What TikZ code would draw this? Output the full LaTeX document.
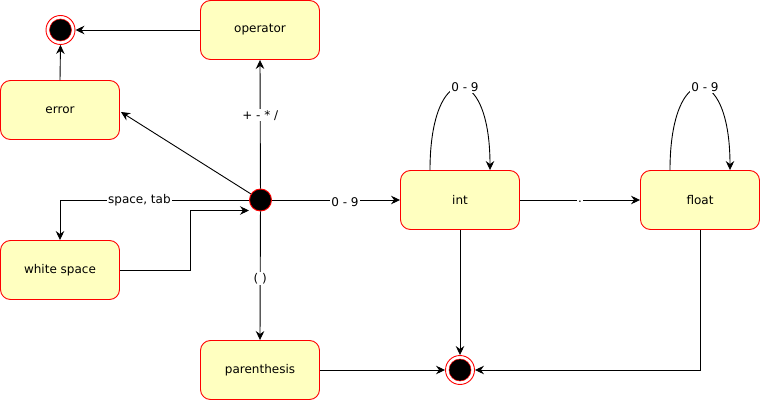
\documentclass[tikz,border=0pt]{standalone}
\usepackage{fontspec}
\setmainfont{DejaVu Sans}
\usetikzlibrary{arrows.meta,calc}
\definecolor{stfill}{RGB}{255,255,192}
\tikzset{
  stbox/.style={rectangle, rounded corners=10pt, draw=red, fill=stfill, line width=0.9pt,
    minimum width=119pt, minimum height=59pt, font=\fontsize{12}{14}\selectfont, inner sep=0pt},
  initst/.style={circle, fill=black, draw=red, line width=0.9pt, minimum size=22pt, inner sep=0pt},
  finalst/.style={circle, fill=white, draw=red, line width=0.9pt, minimum size=29pt, inner sep=0pt},
  conn/.style={line width=0.9pt, -{Stealth[length=9pt,width=8.5pt,inset=3pt]}},
  elabel/.style={fill=white, inner sep=1pt, font=\fontsize{12}{14}\selectfont}
}
\begin{document}
\begin{tikzpicture}[x=1pt,y=-1pt]
\useasboundingbox (0,0) rectangle (761,401);
% nodes
\node[stbox] (op) at (260,30) {operator};
\node[stbox] (error) at (60,110) {error};
\node[stbox] (ws) at (60,270) {white space};
\node[stbox] (par) at (260,370) {parenthesis};
\node[stbox] (int) at (460,200) {int};
\node[stbox] (float) at (700,200) {float};
\node[initst] (init) at (260.5,200) {};
\node[finalst] (f1) at (60.5,30) {};
\node[finalst] (fb) at (460,370) {};
\fill[black, draw=red, line width=0.5pt] (f1.center) circle (11pt);
\fill[black, draw=red, line width=0.5pt] (fb.center) circle (11pt);
\coordinate (errin) at (121,112);
\coordinate (wsbend) at (190,270);
\coordinate (wsin) at (249,210.5);
% connectors
\draw[conn] (op.west) -- (f1.east);
\draw[conn] (error.north) -- (f1.south);
\draw[conn] (init) -- (op.south) node[elabel, pos=0.57] {+ - * /};
\draw[conn] (init) -- (errin);
\draw[conn] (init.west) -| (ws.north) node[elabel, pos=0.29] {space, tab};
\draw[conn] (ws.east) -- (wsbend) |- (wsin);
\draw[conn] (init) -- (par.north) node[elabel, pos=0.52] {( )};
\draw[conn] (init) -- (int.west) node[elabel, pos=0.57, yshift=-2pt] {0 - 9};
\draw[conn] (int.east) -- (float.west) node[elabel, midway, yshift=-2pt] {.};
\draw[conn] ([xshift=-30pt]int.north) .. controls +(0,-110) and +(0,-110) .. ([xshift=30pt]int.north) node[elabel, pos=0.5, xshift=5pt] {0 - 9};
\draw[conn] ([xshift=-30pt]float.north) .. controls +(0,-110) and +(0,-110) .. ([xshift=30pt]float.north) node[elabel, pos=0.5, xshift=5pt] {0 - 9};
\draw[conn] (int.south) -- (fb.north);
\draw[conn] (par.east) -- (fb.west);
\draw[conn] (float.south) |- (fb.east);
\end{tikzpicture}
\end{document}
